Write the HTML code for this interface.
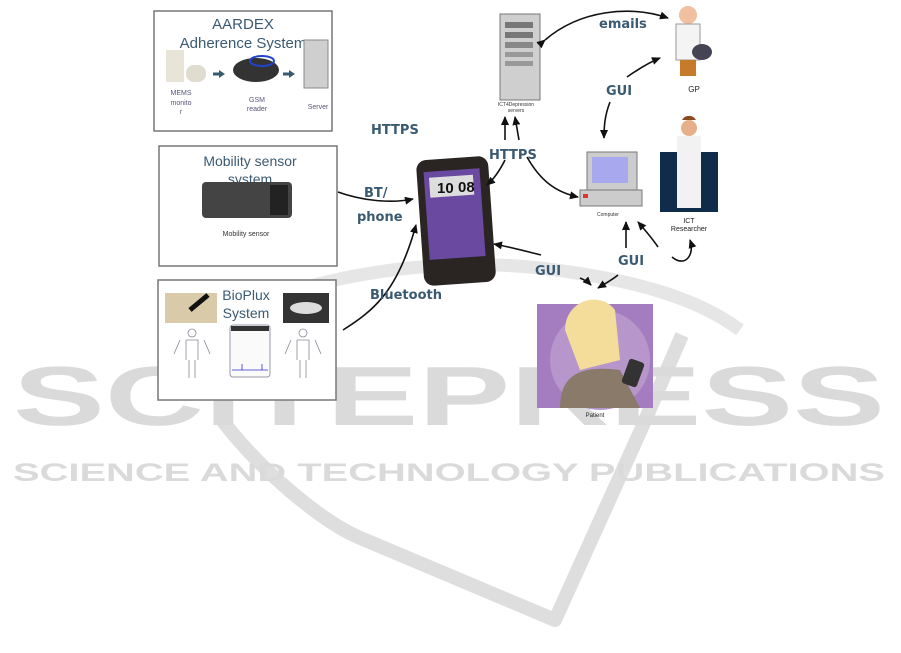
<!DOCTYPE html>
<html><head><meta charset="utf-8"><style>
body{margin:0;background:#fff}
svg{display:block}
text{font-family:"Liberation Sans",sans-serif}
.lb{font-family:"DejaVu Sans","Liberation Sans",sans-serif;font-weight:bold;fill:#3a5a72;font-size:13px}
</style></head><body>
<svg width="901" height="653" viewBox="0 0 901 653" xmlns="http://www.w3.org/2000/svg">
<defs><marker id="a" markerUnits="userSpaceOnUse" markerWidth="10" markerHeight="10" refX="8" refY="4" orient="auto"><path d="M0,0 L9,4 L0,8 Z" fill="#111"/></marker></defs>
<!-- watermark -->
<g>
<path d="M195,335 C280,280 420,255 540,268 C640,280 700,300 740,330" fill="none" stroke="#e6e6e6" stroke-width="13"/>
<path d="M222,420 C260,470 320,520 358,537 L555,620 L640,432 L682,335" fill="none" stroke="#dedede" stroke-width="14" stroke-linejoin="round"/>
<text x="13" y="425" font-size="84" font-weight="bold" fill="#dadada" textLength="872" lengthAdjust="spacingAndGlyphs">SCITEPRESS</text>
<text x="13" y="481" font-size="25" font-weight="bold" fill="#dadada" textLength="872" lengthAdjust="spacingAndGlyphs">SCIENCE AND TECHNOLOGY PUBLICATIONS</text>
</g>
<!-- boxes -->
<rect x="154" y="11" width="178" height="120" fill="#fff" stroke="#777" stroke-width="1.5"/>
<text x="243" y="29" font-size="15" fill="#3a5a72" text-anchor="middle">AARDEX</text>
<text x="243" y="48" font-size="15" fill="#3a5a72" text-anchor="middle">Adherence System</text>
<rect x="166" y="50" width="18" height="32" fill="#e8e4d8"/><rect x="186" y="65" width="20" height="17" rx="8" fill="#e0dccf"/>
<path d="M213,74 h7" stroke="#3a5a72" stroke-width="3"/><path d="M219,70 l6,4 l-6,4z" fill="#3a5a72"/>
<ellipse cx="256" cy="70" rx="23" ry="12" fill="#333"/><ellipse cx="262" cy="61" rx="12" ry="5" fill="none" stroke="#2244cc" stroke-width="2"/>
<path d="M283,74 h7" stroke="#3a5a72" stroke-width="3"/><path d="M289,70 l6,4 l-6,4z" fill="#3a5a72"/>
<rect x="304" y="40" width="24" height="48" fill="#cfcfcf" stroke="#888"/>
<text x="181" y="95" font-size="7" fill="#557" text-anchor="middle">MEMS</text>
<text x="181" y="105" font-size="7" fill="#557" text-anchor="middle">monito</text>
<text x="181" y="114" font-size="7" fill="#557" text-anchor="middle">r</text>
<text x="257" y="102" font-size="7" fill="#557" text-anchor="middle">GSM</text>
<text x="257" y="111" font-size="7" fill="#557" text-anchor="middle">reader</text>
<text x="318" y="109" font-size="7" fill="#557" text-anchor="middle">Server</text>

<rect x="159" y="146" width="178" height="120" fill="#fff" stroke="#777" stroke-width="1.5"/>
<text x="250" y="166" font-size="14" fill="#3a5a72" text-anchor="middle">Mobility sensor</text>
<text x="250" y="184" font-size="14" fill="#3a5a72" text-anchor="middle">system</text>
<rect x="202" y="182" width="90" height="36" rx="4" fill="#444"/>
<rect x="270" y="185" width="18" height="30" fill="#222"/>
<text x="246" y="236" font-size="7" fill="#333" text-anchor="middle">Mobility sensor</text>

<rect x="158" y="280" width="178" height="120" fill="#fff" stroke="#777" stroke-width="1.5"/>
<text x="246" y="300" font-size="14" fill="#3a5a72" text-anchor="middle">BioPlux</text>
<text x="246" y="318" font-size="14" fill="#3a5a72" text-anchor="middle">System</text>
<rect x="165" y="293" width="52" height="30" fill="#d9cbaa"/><path d="M190,310 l18,-15" stroke="#111" stroke-width="5"/>
<rect x="283" y="293" width="46" height="30" fill="#333"/><ellipse cx="306" cy="308" rx="16" ry="6" fill="#ddd"/>
<rect x="230" y="325" width="40" height="52" rx="3" fill="#fafafa" stroke="#99a"/><rect x="231" y="326" width="38" height="5" fill="#333"/>
<path d="M232,370 h10 v-6 v6 h20 v-6 v6 h6" stroke="#33c" fill="none" stroke-width="0.8"/>
<g stroke="#889" fill="none" stroke-width="0.8"><circle cx="192" cy="333" r="4"/><path d="M186,340 h12 v20 M186,340 v20 M180,340 l-6,14 M204,340 l6,14 M189,360 v18 M195,360 v18"/><circle cx="303" cy="333" r="4"/><path d="M297,340 h12 v20 M297,340 v20 M291,340 l-6,14 M315,340 l6,14 M300,360 v18 M306,360 v18"/></g>

<!-- phone -->
<rect x="420" y="158" width="72" height="126" rx="10" fill="#2a2522" transform="rotate(-4 456 220)"/>
<rect x="427" y="170" width="56" height="88" fill="#6a4aa0" transform="rotate(-4 456 220)"/>
<rect x="432" y="176" width="44" height="20" fill="#ddd" transform="rotate(-4 456 220)"/>
<text x="437" y="193" font-size="15" fill="#111" font-weight="bold">10</text><text x="458" y="192" font-size="15" fill="#111" font-weight="bold">08</text>

<!-- server -->
<rect x="500" y="14" width="40" height="86" fill="#cfcfcf" stroke="#777"/>
<rect x="505" y="22" width="28" height="6" fill="#777"/><rect x="505" y="32" width="28" height="6" fill="#777"/><rect x="505" y="42" width="28" height="6" fill="#888"/><rect x="505" y="52" width="28" height="5" fill="#999"/><rect x="505" y="61" width="28" height="5" fill="#999"/>
<text x="516" y="106" font-size="5" fill="#333" text-anchor="middle">ICT4Depression</text>
<text x="516" y="112" font-size="5" fill="#333" text-anchor="middle">servers</text>

<!-- GP -->
<circle cx="688" cy="15" r="9" fill="#f0c0a0"/><rect x="676" y="24" width="24" height="36" fill="#f4f4f4" stroke="#999"/>
<rect x="680" y="60" width="16" height="16" fill="#c67a2a"/><ellipse cx="702" cy="52" rx="10" ry="8" fill="#445"/>
<text x="694" y="92" font-size="8" fill="#222" text-anchor="middle">GP</text>

<!-- computer -->
<rect x="587" y="152" width="50" height="38" fill="#ccc" stroke="#777"/><rect x="592" y="157" width="36" height="26" fill="#a8a8ee"/>
<rect x="580" y="190" width="62" height="16" fill="#ccc" stroke="#777"/><rect x="583" y="194" width="5" height="4" fill="#d33"/>
<text x="608" y="216" font-size="5" fill="#333" text-anchor="middle">Computer</text>

<!-- researcher -->
<rect x="660" y="152" width="58" height="60" fill="#0f2d4a"/>
<circle cx="689" cy="128" r="8" fill="#e8b08a"/><path d="M682,120 a8,8 0 0 1 14,0" fill="#8a4a20"/>
<rect x="677" y="136" width="24" height="72" fill="#f2f2f2"/>
<text x="689" y="223" font-size="7" fill="#222" text-anchor="middle">ICT</text>
<text x="689" y="231" font-size="7" fill="#222" text-anchor="middle">Researcher</text>

<!-- patient -->
<rect x="537" y="304" width="116" height="104" fill="#a47cc0"/>
<circle cx="600" cy="360" r="50" fill="#b796cc"/>
<path d="M565,330 C565,300 600,290 615,310 L620,360 L580,370 Z" fill="#f4dc9a"/>
<path d="M560,408 C560,375 580,365 620,370 L640,408 Z" fill="#8a7a6a"/>
<rect x="625" y="360" width="16" height="26" rx="3" fill="#333" transform="rotate(20 633 373)"/>
<text x="595" y="417" font-size="6" fill="#222" text-anchor="middle">Patient</text>

<!-- connectors -->
<g stroke="#111" stroke-width="1.6" fill="none">
<path d="M338,192 C360,200 390,204 413,199" marker-end="url(#a)"/>
<path d="M343,330 C375,310 398,290 416,225" marker-end="url(#a)"/>
<path d="M505,160 C500,170 495,178 487,185" marker-end="url(#a)"/>
<path d="M505,140 L505,117" marker-end="url(#a)"/>
<path d="M519,140 L515,117" marker-end="url(#a)"/>
<path d="M527,157 C540,180 555,192 578,197" marker-end="url(#a)"/>
<path d="M545,40 C580,10 630,5 668,18" marker-start="url(#a)" marker-end="url(#a)"/>
<path d="M627,77 C640,68 650,62 660,58" marker-end="url(#a)"/>
<path d="M610,102 C605,115 604,125 604,138" marker-end="url(#a)"/>
<path d="M541,255 C525,251 510,247 494,244" marker-end="url(#a)"/>
<path d="M580,278 C585,280 588,282 591,285" marker-end="url(#a)"/>
<path d="M618,275 C612,280 606,283 598,288" marker-end="url(#a)"/>
<path d="M626,248 L626,222" marker-end="url(#a)"/>
<path d="M658,247 C652,238 645,230 638,222" marker-end="url(#a)"/>
<path d="M672,257 C685,268 695,255 690,240" marker-end="url(#a)"/>
</g>
<text class="lb" x="371" y="134">HTTPS</text>
<text class="lb" x="364" y="197">BT/</text>
<text class="lb" x="357" y="221">phone</text>
<text class="lb" x="370" y="299">Bluetooth</text>
<text class="lb" x="599" y="28">emails</text>
<text class="lb" x="606" y="95">GUI</text>
<text class="lb" x="489" y="159">HTTPS</text>
<text class="lb" x="535" y="275">GUI</text>
<text class="lb" x="618" y="265">GUI</text>
</svg>
</body></html>
